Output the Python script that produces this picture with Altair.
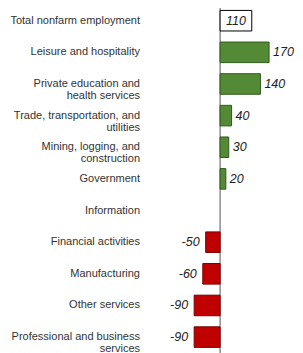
import altair as alt
import pandas as pd

categories = [
    "Total nonfarm employment",
    "Leisure and hospitality",
    "Private education and\nhealth services",
    "Trade, transportation, and\nutilities",
    "Mining, logging, and\nconstruction",
    "Government",
    "Information",
    "Financial activities",
    "Manufacturing",
    "Other services",
    "Professional and business\nservices",
]
values = [110, 170, 140, 40, 30, 20, 0, -50, -60, -90, -90]
kinds = ["total", "gain", "gain", "gain", "gain", "gain", "none", "loss", "loss", "loss", "loss"]

df = pd.DataFrame({"cat": categories, "value": values, "kind": kinds})
df["lbl"] = [("" if v == 0 else str(v)) for v in values]
df["half"] = df["value"] / 2
df["zero"] = 0

H = 345
W = 287
y_scale = alt.Scale(domain=categories, paddingInner=0.35, paddingOuter=0.127, align=0.3)
x_scale = alt.Scale(domain=[-736, 260], nice=False, zero=False)
y_enc = alt.Y("cat:N", scale=y_scale, sort=categories, axis=None)

base = alt.Chart(df)

bars = base.transform_filter("datum.kind != 'none'").mark_bar(strokeWidth=1).encode(
    y=y_enc,
    x=alt.X("value:Q", scale=x_scale, axis=None),
    x2="zero:Q",
    fill=alt.Fill("kind:N", scale=alt.Scale(domain=["total", "gain", "loss"],
                                             range=["#ffffff", "#548a36", "#c00000"]), legend=None),
    stroke=alt.Stroke("kind:N", scale=alt.Scale(domain=["total", "gain", "loss"],
                                                 range=["#000000", "#2f5a1c", "#7a0000"]), legend=None),
)

zero_rule = base.transform_filter("datum.kind == 'total'").mark_rule(color="#555555", strokeWidth=1).encode(
    x=alt.X("zero:Q", scale=x_scale, axis=None),
    y=alt.value(0),
    y2=alt.value(H),
)

pos_lbl = base.transform_filter("datum.kind == 'gain'").mark_text(
    align="left", baseline="middle", dx=4, fontSize=12.5, fontStyle="italic",
    font="Liberation Sans", color="#222222"
).encode(y=y_enc, x=alt.X("value:Q", scale=x_scale, axis=None), text="lbl:N")

neg_lbl = base.transform_filter("datum.kind == 'loss'").mark_text(
    align="right", baseline="middle", dx=-6, fontSize=12.5, fontStyle="italic",
    font="Liberation Sans", color="#222222"
).encode(y=y_enc, x=alt.X("value:Q", scale=x_scale, axis=None), text="lbl:N")

tot_lbl = base.transform_filter("datum.kind == 'total'").mark_text(
    align="center", baseline="middle", fontSize=12.5, fontStyle="italic",
    font="Liberation Sans", color="#222222"
).encode(y=y_enc, x=alt.X("half:Q", scale=x_scale, axis=None), text="lbl:N")

cat_lbl = base.mark_text(
    align="right", baseline="middle", fontSize=11, font="Liberation Sans",
    color="#333333", lineBreak="\n", lineHeight=12
).encode(y=y_enc, x=alt.value(132), text="cat:N")

chart = alt.layer(zero_rule, bars, pos_lbl, neg_lbl, tot_lbl, cat_lbl).properties(
    width=W, height=H, padding=0, background="#ffffff",
    autosize=alt.AutoSizeParams(type="none")
).configure_view(stroke=None)

chart.save("out.html", embed_options={"renderer": "svg", "actions": False})
